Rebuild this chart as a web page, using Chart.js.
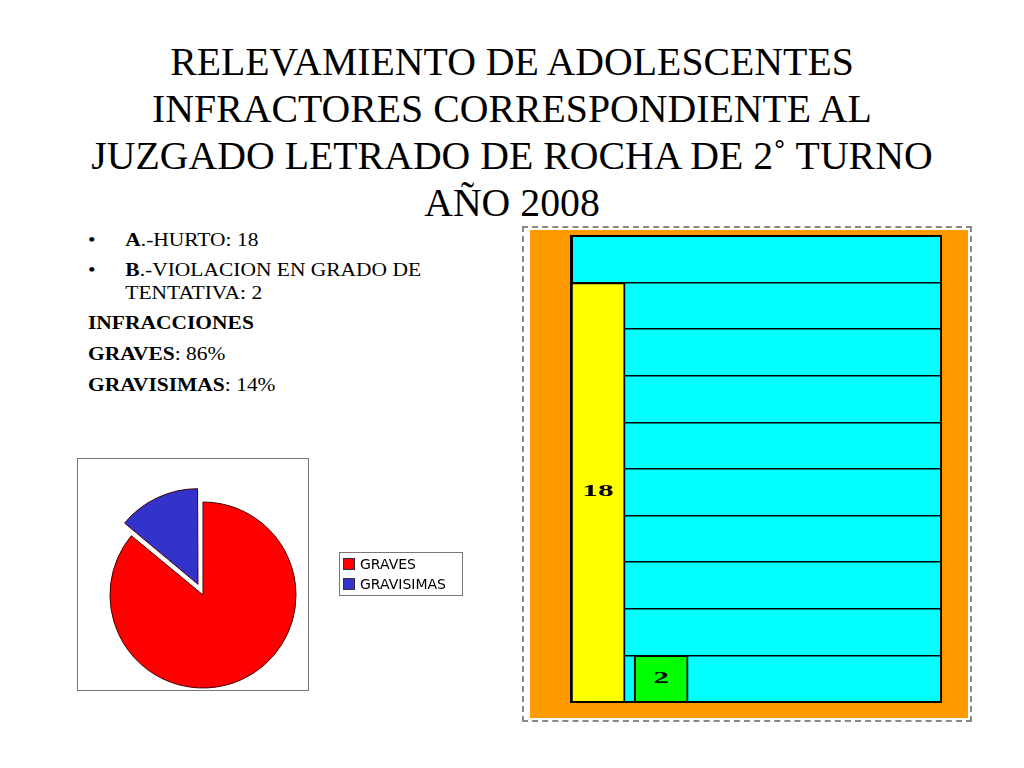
<!DOCTYPE html>
<html><head><meta charset="utf-8">
<script src="https://cdn.jsdelivr.net/npm/chart.js@4"></script>
<style>
body{margin:0;width:1024px;height:768px;background:#fff;position:relative;font-family:"Liberation Serif","Times New Roman",serif;overflow:hidden}
#title{position:absolute;left:0;top:38px;width:1024px;text-align:center;font-size:39px;line-height:47px;color:#000;transform:scaleX(1.02)}
#txt{position:absolute;left:88px;top:228px;font-size:19px;line-height:23px;color:#000;transform:scaleX(1.13);transform-origin:0 0}
#txt .li{position:relative;padding-left:33px;margin-bottom:7px;width:300px}
#txt .li:before{content:"•";position:absolute;left:0;top:0}
#txt p{margin:0 0 8px 0}
#piebox{position:absolute;left:77px;top:458px;width:230px;height:231px;border:1px solid #777}
#pie{position:absolute;left:63px;top:455px}
#legend{position:absolute;left:339px;top:552px;width:124px;height:44px;border:1px solid #777;font-family:"DejaVu Sans",sans-serif;font-size:14px;line-height:20px;padding:1px 0 0 3px;box-sizing:border-box}
.sw{display:inline-block;width:10px;height:10px;border:1px solid #333;margin-right:5px;vertical-align:-1px}
#barwrap{position:absolute;left:522px;top:226px;width:450px;height:496px;border:2px dashed #888;box-sizing:border-box}
#bar{position:absolute;left:530px;top:230px}
</style></head><body>
<div id="title">RELEVAMIENTO DE ADOLESCENTES<br>INFRACTORES CORRESPONDIENTE AL<br>JUZGADO LETRADO DE ROCHA DE 2˚ TURNO<br>AÑO 2008</div>
<div id="txt"><div class="li"><b>A</b>.-HURTO: 18</div><div class="li"><b>B</b>.-VIOLACION EN GRADO DE TENTATIVA: 2</div>
<p><b>INFRACCIONES</b></p><p><b>GRAVES</b>: 86%</p><p><b>GRAVISIMAS</b>: 14%</p></div>
<div id="piebox"></div>
<canvas id="pie" width="280" height="280"></canvas>
<div id="legend"></div>
<div id="barwrap"></div>
<canvas id="bar" width="438" height="488"></canvas>
<script>
const pieLabels=["GRAVES","GRAVISIMAS"];
const pieValues=[86,14];
const pieColors=["#ff0000","#3333cc"];
const barLabels=["A","B"];
const barValues=[18,2];
const barPositions=[0.43,1.43];
const barColors=["#ffff00","#00ff00"];
const yTicks=[0,2,4,6,8,10,12,14,16,18,20];

document.getElementById('legend').innerHTML=pieLabels.map((l,i)=>'<div><span class="sw" style="background:'+pieColors[i]+'"></span>'+l+'</div>').join('');

new Chart(document.getElementById('pie'),{type:'pie',
 data:{labels:pieLabels,datasets:[{data:pieValues,backgroundColor:pieColors,borderColor:'#400',borderWidth:1,offset:[0,47]}]},
 options:{responsive:false,animation:false,radius:93,layout:{padding:0},plugins:{legend:{display:false},tooltip:{enabled:false}}}});

const bg={id:'bg',beforeDraw(c){const x=c.ctx,a=c.chartArea;x.save();x.fillStyle='#ff9900';x.fillRect(0,0,c.width,c.height);x.fillStyle='#00ffff';x.fillRect(a.left,a.top,a.right-a.left,a.bottom-a.top);x.restore();},
 afterDraw(c){const x=c.ctx,a=c.chartArea;x.save();x.strokeStyle='#000';x.lineWidth=2;x.strokeRect(a.left,a.top,a.right-a.left,a.bottom-a.top);
  x.font='bold 21px "Liberation Serif",serif';x.fillStyle='#000';x.textAlign='center';x.textBaseline='middle';
  c.getDatasetMeta(0).data.forEach((el,i)=>{x.save();x.translate(el.x,(el.y+el.base)/2);x.scale(1.5,0.8);x.fillText(String(barValues[i]),0,0);x.restore();});x.restore();}};

new Chart(document.getElementById('bar'),{type:'bar',
 data:{datasets:[{data:barValues.map((v,i)=>({x:barPositions[i],y:v})),backgroundColor:barColors,borderColor:'#000',borderWidth:2,borderSkipped:'bottom',barThickness:54}]},
 options:{responsive:false,animation:false,layout:{padding:{left:41,right:27,top:6,bottom:16}},
  plugins:{legend:{display:false},tooltip:{enabled:false}},
  scales:{x:{type:'linear',min:0,max:5.87,display:false,offset:false},
   y:{min:0,max:20,afterBuildTicks(s){s.ticks=yTicks.map(v=>({value:v}));},ticks:{display:false},
    grid:{color:'#000',lineWidth:1.5,drawTicks:false},border:{display:true,color:'#000',width:3}}}},
 plugins:[bg]});
</script></body></html>
